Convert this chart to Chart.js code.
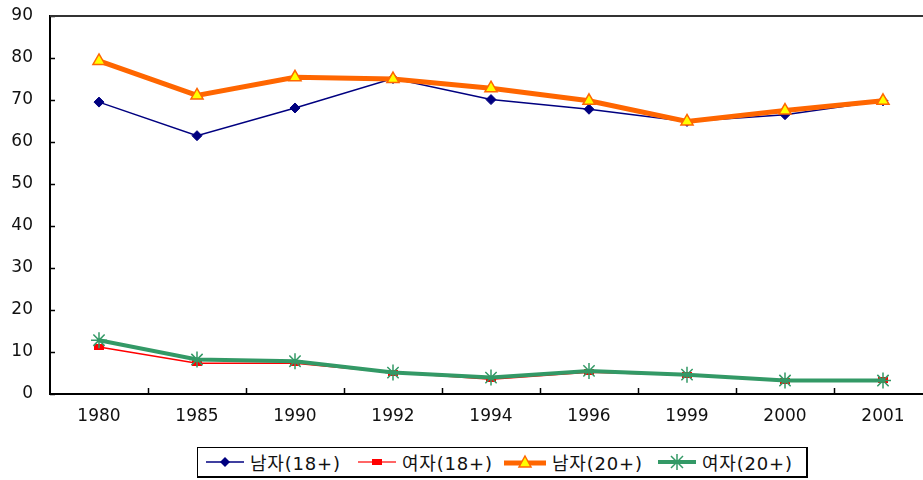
<!DOCTYPE html>
<html>
<head>
<meta charset="utf-8">
<script src="https://cdn.jsdelivr.net/npm/chart.js@4.4.0/dist/chart.umd.min.js"></script>
<style>
  html, body { margin: 0; padding: 0; background: #fff; overflow: hidden; }
  #wrap { position: relative; width: 923px; height: 480px; overflow: hidden; }
  #myChart { position: absolute; left: 0; top: 0; }
  #legend {
    position: absolute; left: 197px; top: 447px; width: 608px; height: 28px;
    border: 1px solid #000; border-right-width: 2px; border-bottom-width: 2px;
    background: #fff;
    font-family: "DejaVu Sans", "Noto Sans CJK KR", sans-serif; font-size: 18px; color: #111;
    letter-spacing: 0.8px;
  }
  .item { position: absolute; top: 0; height: 28px; display: flex; align-items: center; }
  .item svg { margin-right: 6px; }
</style>
</head>
<body>
<div id="wrap">
  <canvas id="myChart" width="932" height="480" style="width:932px;height:480px"></canvas>
  <div id="legend"></div>
</div>
<script>
// data
let years = ["1980", "1985", "1990", "1992", "1994", "1996", "1999", "2000", "2001"]
let male18 = [69.5, 61.5, 68.1, 75.1, 70.1, 67.8, 64.9, 66.5, 69.8]
let female18 = [11.2, 7.3, 7.3, 5.1, 3.5, 5.2, 4.5, 3.1, 3.4]
let male20 = [79.3, 71.1, 75.4, 75.0, 72.8, 69.8, 64.9, 67.5, 69.8]
let female20 = [12.8, 8.2, 7.8, 5.1, 3.9, 5.5, 4.6, 3.2, 3.2]
let names = ["남자(18+)", "여자(18+)", "남자(20+)", "여자(20+)"]

// small red bar marker for 여자(18+)
let redMark = document.createElement("canvas")
redMark.width = 10
redMark.height = 6
let rc = redMark.getContext("2d")
rc.fillStyle = "#ff0000"
rc.fillRect(0, 0, 10, 6)

// inside tick marks + top frame line
const frame = {
    id: "frame",
    afterDatasetsDraw(chart) {
        let ctx = chart.ctx
        let a = chart.chartArea
        let x = chart.scales.x
        let y = chart.scales.y
        ctx.save()
        ctx.strokeStyle = "#000"
        ctx.lineWidth = 1.5
        y.ticks.forEach((t, i) => {
            let py = Math.round(y.getPixelForTick(i)) + 0.5
            ctx.beginPath()
            ctx.moveTo(a.left, py)
            ctx.lineTo(a.left + 5, py)
            ctx.stroke()
        })
        for (let i = 0; i < years.length; i++) {
            let px = Math.round((x.getPixelForValue(i) + x.getPixelForValue(i + 1)) / 2) + 0.5
            ctx.beginPath()
            ctx.moveTo(px, a.bottom)
            ctx.lineTo(px, a.bottom - 6)
            ctx.stroke()
        }
        ctx.strokeStyle = "#333"
        ctx.lineWidth = 2
        ctx.beginPath()
        ctx.moveTo(a.left, a.top)
        ctx.lineTo(chart.width, a.top)
        ctx.stroke()
        ctx.restore()
    }
}

const ctx = document.getElementById("myChart")
Chart.defaults.font.family = "'DejaVu Sans', sans-serif"
Chart.defaults.font.size = 17
Chart.defaults.color = "#111"

new Chart(ctx, {
    type: "line",
    data: {
        labels: years,
        datasets: [
            {
                label: names[0], data: male18, order: 4,
                borderColor: "#000080", borderWidth: 1.5,
                pointStyle: "rectRot", pointRadius: 5, pointBackgroundColor: "#000080",
                pointBorderColor: "#000080", pointBorderWidth: 1
            },
            {
                label: names[1], data: female18, order: 3,
                borderColor: "#ff0000", borderWidth: 1.5,
                pointStyle: redMark, pointRadius: 5
            },
            {
                label: names[2], data: male20, order: 2,
                borderColor: "#ff6600", borderWidth: 5,
                pointStyle: "triangle", pointRadius: 7, pointBackgroundColor: "#ffff00",
                pointBorderColor: "#ff6600", pointBorderWidth: 1.5
            },
            {
                label: names[3], data: female20, order: 1,
                borderColor: "#339966", borderWidth: 4,
                pointStyle: "star", pointRadius: 8, pointBorderColor: "#339966",
                pointBorderWidth: 1.5
            }
        ]
    },
    options: {
        responsive: false,
        animation: false,
        // plot area runs past the right edge of the window (cropped like the original)
        layout: {
            autoPadding: false,
            padding: { top: 16, left: 0, bottom: 0, right: 0 }
        },
        plugins: { legend: { display: false }, tooltip: { enabled: false } },
        scales: {
            x: {
                offset: true,
                grid: { display: false, drawTicks: false },
                border: { color: "#000", width: 2 },
                ticks: { padding: 12, maxRotation: 0 },
                afterFit: (s) => {
                    s.height = 86
                    s.paddingLeft = 0
                    s.paddingRight = 0
                }
            },
            y: {
                min: 0, max: 90,
                grid: { display: false, drawTicks: false },
                border: { color: "#000", width: 2 },
                ticks: { stepSize: 10, padding: 17 },
                afterFit: (s) => {
                    s.width = 50
                    s.paddingTop = 0
                    s.paddingBottom = 0
                }
            }
        }
    },
    plugins: [frame]
})

// legend
let icons = [
    '<svg width="38" height="14"><line x1="0" y1="7" x2="38" y2="7" stroke="#000080" stroke-width="1.5"/><polygon points="19,2 24,7 19,12 14,7" fill="#000080"/></svg>',
    '<svg width="38" height="14"><line x1="0" y1="7" x2="38" y2="7" stroke="#ff3333" stroke-width="1.5"/><rect x="14" y="4" width="10" height="6" fill="#ff0000"/></svg>',
    '<svg width="42" height="16"><line x1="0" y1="9" x2="42" y2="9" stroke="#ff6600" stroke-width="5"/><polygon points="21,2 27,13 15,13" fill="#ffff00" stroke="#ff6600" stroke-width="1.5"/></svg>',
    '<svg width="38" height="16"><line x1="0" y1="8" x2="38" y2="8" stroke="#339966" stroke-width="4"/><g stroke="#339966" stroke-width="1.5"><line x1="19" y1="0" x2="19" y2="16"/><line x1="13" y1="2" x2="25" y2="14"/><line x1="25" y1="2" x2="13" y2="14"/></g></svg>'
]
let itemLeft = [8, 160, 306, 460]
let legend = document.getElementById("legend")
for (let i = 0; i < names.length; i++) {
    legend.innerHTML += '<div class="item" style="left:' + itemLeft[i] + 'px">' + icons[i] + '<span>' + names[i] + '</span></div>'
}
</script>
</body>
</html>
